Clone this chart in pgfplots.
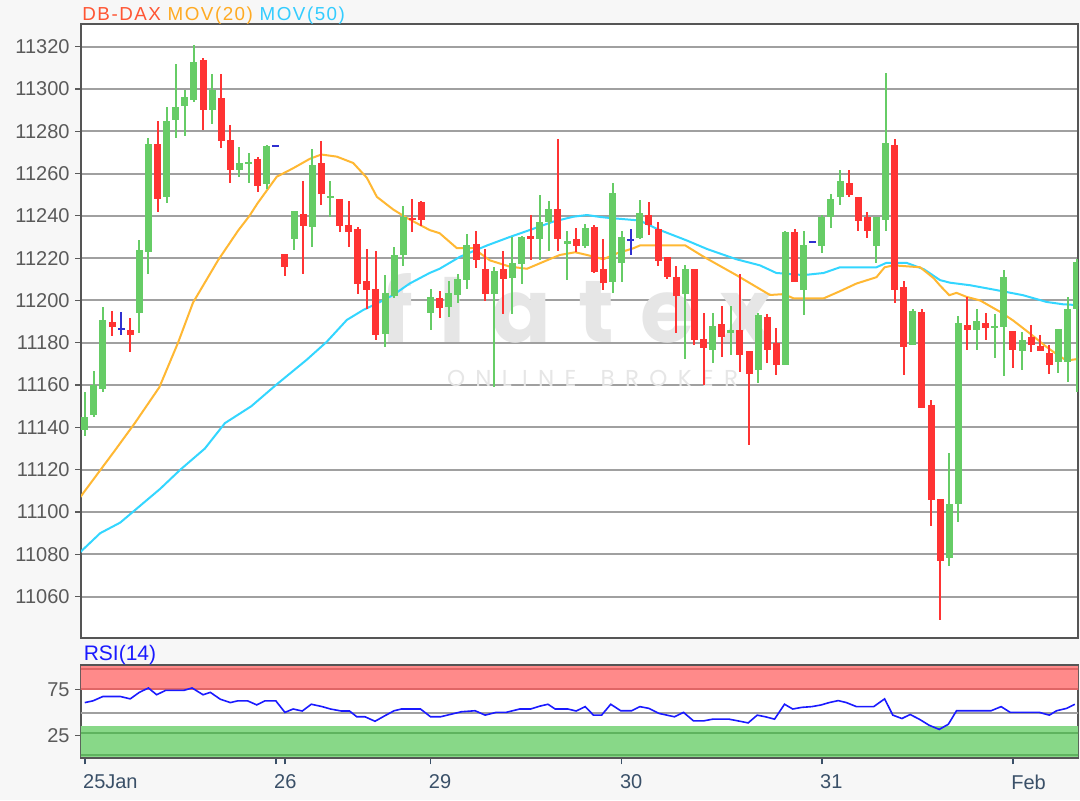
\documentclass[border=0pt]{standalone}
\usepackage{fontspec}
\setmainfont{Liberation Sans}
\newfontfamily\wmfont[LetterSpace=30]{Poppins}
\newfontfamily\wmsmall[LetterSpace=45]{Poppins}
\newfontfamily\titlefont[LetterSpace=8]{Liberation Sans}
\usepackage{pgfplots}
\usepackage{pgfplotstable}
\pgfplotsset{compat=1.18}

\definecolor{cgreen}{HTML}{66CC66}
\definecolor{cred}{HTML}{FF3333}
\definecolor{cblue}{HTML}{3030D0}
\definecolor{cma20}{HTML}{FFB833}
\definecolor{cma50}{HTML}{33D6FF}
\definecolor{gridc}{HTML}{A0A0A0}
\definecolor{framec}{HTML}{555555}
\definecolor{bg}{HTML}{F7F7F7}
\definecolor{xlab}{HTML}{3A5068}
\definecolor{ylab}{HTML}{5A5A5A}
\definecolor{tdax}{HTML}{FF5533}
\definecolor{tmov20}{HTML}{FFAA22}
\definecolor{tmov50}{HTML}{33CCFF}
\definecolor{trsi}{HTML}{1A1AFF}
\definecolor{rsired}{HTML}{FF8A8A}
\definecolor{rsireddk}{HTML}{E06666}
\definecolor{rsigrn}{HTML}{88D888}
\definecolor{rsigrndk}{HTML}{5FB35F}
\definecolor{wm}{HTML}{E6E6E6}

% candles: index, open, high, low, close
\pgfplotstableread{
i o h l c
0 11139 11157 11136 11145
1 11146 11167 11145 11160
2 11158 11197 11157 11191
6 11194 11228.5 11184.5 11224
7 11223 11277 11212.5 11274
9 11249 11291.5 11246 11285
10 11285.5 11312 11277 11291.5
11 11292 11299.5 11278 11296
12 11295 11321 11294 11313
14 11290 11307 11283.5 11299.5
17 11262 11272.5 11258.5 11265
18 11264.5 11270 11255.5 11265.5
20 11255 11273.5 11253 11273
23 11229 11242.5 11224 11242.5
25 11235 11271.5 11225.5 11264
27 11248.5 11256.5 11239.5 11249.5
33 11184 11212 11178 11203.5
34 11202 11225.5 11201.5 11221.5
35 11221.5 11244.5 11216.5 11239.5
38 11194 11205.5 11186 11201.5
40 11197 11209.5 11192.5 11203.5
41 11202.5 11212.5 11199 11210
42 11210 11231.5 11205.5 11226.5
45 11203 11216 11159 11214
47 11210.5 11230 11193.5 11217.5
48 11217.5 11230.5 11208 11230
50 11229 11250 11219 11237
51 11237 11247 11223.5 11243.5
53 11227 11233 11209.5 11228
55 11226 11236 11225 11234.5
58 11209 11255.5 11203.5 11251
59 11218 11233 11209 11230
61 11229.5 11247.5 11229 11241.5
66 11203 11217 11172.5 11215
69 11176.5 11194 11170.5 11188
71 11184.5 11197.5 11174.5 11186
74 11167 11194 11161 11193
77 11169.5 11233 11169.5 11232.5
79 11205 11233 11193 11226.5
81 11226 11240.5 11222.5 11239.5
82 11239.5 11250.5 11234.5 11248
83 11249 11261.5 11245 11256.5
87 11226 11239.5 11218 11239.5
88 11238 11307.5 11233 11274.5
91 11179 11196 11179 11195
95 11078.5 11128 11074.5 11104
96 11104 11192.5 11095.5 11189.5
98 11186 11196 11176.5 11190.5
100 11187 11193.5 11173 11188
101 11187.5 11214.5 11164.5 11211
103 11176 11185 11167 11181.5
107 11171 11186.5 11165.5 11186.5
108 11171 11201.5 11161.5 11196
109 11196 11219.5 11157 11218.5
}\greentab

\pgfplotstableread{
i o h l c
3 11190 11195 11183 11187.5
5 11186 11191.5 11175.5 11183.5
8 11274 11285 11242 11248
13 11314 11314.5 11280.5 11290
15 11296 11307 11272 11275.5
16 11276 11283 11255.5 11262
19 11267 11268 11251.5 11254
22 11222 11222 11211.5 11216
24 11241 11256.5 11212.5 11235
26 11265 11275.5 11245 11250.5
28 11248 11248 11232.5 11235.5
29 11235.5 11247 11225.5 11232.5
30 11234 11235 11203 11208
31 11209 11224.5 11196 11205
32 11205.5 11223.5 11181.5 11183.5
36 11239 11248 11232.5 11238
37 11246.5 11247 11235 11238
39 11201 11204.5 11192 11196.5
43 11227 11233 11215.5 11219.5
44 11215 11224.5 11200 11203
46 11215 11223.5 11193.5 11210.5
49 11230.5 11240.5 11219 11229
52 11243.5 11276.5 11223.5 11229
54 11229 11234.5 11223 11226
56 11235 11235.5 11213 11213.5
57 11215 11229 11205 11208.5
62 11240.5 11246.5 11231 11235.5
63 11234 11237 11216.5 11218.5
64 11220.5 11220.5 11210 11211
65 11211 11216.5 11184.5 11202
67 11215 11215 11179 11181.5
68 11182 11194 11160 11177.5
70 11189 11197.5 11173.5 11183
72 11186 11212.5 11166.5 11174.5
73 11176 11176 11131.5 11165.5
75 11192.5 11193.5 11170.5 11176.5
76 11180 11187 11165 11169.5
78 11232.5 11234 11209 11209
84 11255.5 11261.5 11249 11250
85 11249 11249 11233 11237.5
86 11239.5 11242 11229.5 11233
89 11273.5 11276.5 11199 11205
90 11206.5 11209 11165 11178
92 11194.5 11196 11149.5 11149.5
93 11150.5 11153 11093.5 11105.5
94 11106 11106 11049 11077
97 11188.5 11201.5 11176.5 11186
99 11189.5 11194 11181.5 11187
102 11185.5 11185.5 11168 11176.5
104 11183 11188.5 11175.5 11179
105 11178.5 11183.5 11176 11176
106 11175 11179 11165.5 11169.5
}\redtab

\pgfplotstableread{
i o h l c
4 11186.5 11194.5 11183.5 11186.5
21 11273 11273 11273 11273
60 11228.5 11234 11221.5 11228.5
80 11227.5 11227.5 11227.5 11227.5
}\bluetab

\pgfplotstableread{
i v
-0.5 11107
3.3 11129
5.5 11142
8.2 11159
10.25 11180
11.9 11199
14.65 11219
16.85 11233
18.1 11240
19.0 11246
21.1 11258.5
22.9 11262.5
24.75 11267
26.0 11269
27.7 11268
29.5 11265
31.0 11258
32.1 11249
33.9 11243
35.4 11239
37.9 11233.3
39.0 11231.8
40.9 11224.7
42.7 11224.7
44.5 11219
46.7 11216
48.6 11215
50.8 11219
52.2 11221.5
53.9 11222.8
55.2 11221.5
57.0 11219.5
58.5 11222.3
60.3 11224.7
61.0 11226
66.0 11226
68.0 11220.7
71.6 11212
75.3 11202.6
76.8 11203
77.9 11201
81.2 11201
83.0 11204.4
84.8 11208
87.0 11211
87.9 11215.7
88.9 11216.6
91.8 11215.7
93.3 11210.5
94.0 11207
95.0 11202.5
95.8 11203.6
96.9 11201.7
98.4 11200
100.6 11194.6
102.0 11190.6
103.9 11184.3
105.7 11178
107.0 11174
107.9 11171.6
109.2 11172.4
}\mavtwenty

\pgfplotstableread{
i v
-0.5 11081
1.7 11090
3.9 11095
6.1 11103
8.3 11111
10.5 11120
13.2 11130
15.4 11142
18.3 11150
21.0 11160
24.4 11172
26.6 11180.5
28.8 11190.8
30.6 11195.5
32.5 11199.4
33.9 11202.6
35.7 11208
37.9 11213
39.0 11215
41.25 11220.7
44.2 11226
46.7 11230
48.9 11233.3
51.5 11237.3
53.7 11239.6
55.2 11240.4
56.6 11239.5
57.7 11239
61.0 11237.8
62.9 11233.8
66.2 11228.3
68.4 11224.3
71.6 11219.5
74.2 11216.6
76.0 11213
79.0 11212
81.2 11213
83.0 11215.7
87.0 11215.7
88.1 11217.8
90.3 11217.8
92.2 11214.8
94.0 11209.6
95.1 11208.4
97.3 11207.2
100.2 11204.9
103.1 11202.5
105.7 11199.3
107.5 11198.2
109.2 11197.8
}\mavfifty

\pgfplotstableread{
i v
0.0 60.9
0.9 62.8
2.0 67.6
3.9 67.6
5.0 65
6.0 72.1
7.0 76.9
7.9 69.5
8.9 74.3
10.9 74.3
11.8 76.9
13.0 69.5
13.8 72.1
14.9 64.6
16.0 60.9
16.8 62.8
17.9 62.8
18.9 58.4
19.8 62.8
21.0 62.8
22.0 50.2
22.9 53.9
23.9 51.7
24.9 59.1
26.1 56.5
27.0 53.9
28.2 51.7
29.1 51.7
29.9 45.4
30.8 45.4
31.9 40.5
32.9 46.1
34.0 52
34.8 53.9
36.9 53.9
38.0 45.4
39.1 45.4
40.3 48.3
41.4 50.9
42.9 52
44.0 47.2
45.2 50.2
46.3 50.2
47.8 53.9
49.0 53.9
50.0 57
50.9 59.1
51.7 53.9
53.1 53.9
54.0 51.7
55.0 56.5
55.9 47.2
56.8 47.2
57.8 59.1
58.9 52
60.1 52
61.0 56.5
62.0 54.6
63.1 49.1
64.8 45.4
65.8 50.2
66.9 40.9
68.0 40.9
69.0 42.8
70.8 42.8
72.0 40.5
72.9 38.7
73.9 47.2
74.8 45.4
75.8 42.8
76.9 59.1
77.8 53.9
78.8 55.7
79.9 56.5
80.9 58.3
81.8 60.9
82.8 63.1
83.7 60.9
84.8 56.5
86.7 56.5
87.9 65
88.8 47.2
89.8 43.5
90.7 47.9
91.7 42.8
92.8 36.1
93.9 31.6
94.9 37.2
95.8 52
99.6 52
100.7 56.5
101.7 50.2
104.9 50.2
106.0 47.2
106.8 52
107.9 54.6
108.8 59.1
}\rsitab

\pgfplotsset{
  chart/.style={
    scale only axis, width=498.5pt,
    xmin=-0.41, xmax=109.15,
    axis line style={framec, line width=1pt},
    tick align=outside, major tick length=3pt,
    xtick pos=bottom, ytick pos=left,
    ytick style={ylab, line width=0.6pt},
    scaled y ticks=false,
    ticklabel style={font=\fontsize{10}{12}\selectfont},
    yticklabel style={ylab, inner sep=0pt, xshift=-2.5pt},
    /pgf/number format/.cd, fixed, precision=0, 1000 sep={}, assume math mode=true,
  },
  wick/.style={draw=none, no markers, forget plot,
    error bars/.cd, y dir=both, y explicit, error mark=none,
    error bar style={solid, draw=#1, line width=1pt}},
  body/.style={draw=none, no markers, forget plot,
    error bars/.cd, y dir=both, y explicit, error mark=none,
    error bar style={solid, draw=#1, line width=3.5pt}},
}

\begin{document}
\begin{tikzpicture}
\fill[bg] (0pt,0pt) rectangle (540pt,400pt);
\path[use as bounding box] (0pt,0pt) rectangle (540pt,400pt);

\begin{axis}[chart, at={(40.5pt,80.85pt)}, anchor=south west, height=307.15pt,
  axis background/.style={fill=white},
  ymin=11040.3, ymax=11330.7, ytick={11060,11080,...,11320},
  xtick=\empty, ymajorgrids, grid style={gridc, line width=1pt}]

\node[text=wm, font=\wmfont\bfseries\fontsize{44}{44}\selectfont, inner sep=0pt] at (axis cs:54.1,11196.5) {flatex};
\node[text=wm, font=\wmsmall\fontsize{11.5}{12}\selectfont, inner sep=0pt] at (axis cs:55.8,11163) {ONLINE\hspace{12pt}BROKER};

\addplot[cma50, line width=1pt, mark=none] table[x=i, y=v] {\mavfifty};
\addplot[cma20, line width=1pt, mark=none] table[x=i, y=v] {\mavtwenty};

\addplot[wick=cgreen] table[x=i, y expr={(\thisrow{h}+\thisrow{l})/2}, y error expr={(\thisrow{h}-\thisrow{l})/2}] {\greentab};
\addplot[body=cgreen] table[x=i, y expr={(\thisrow{o}+\thisrow{c})/2}, y error expr={abs(\thisrow{c}-\thisrow{o})/2}] {\greentab};
\addplot[wick=cred] table[x=i, y expr={(\thisrow{h}+\thisrow{l})/2}, y error expr={(\thisrow{h}-\thisrow{l})/2}] {\redtab};
\addplot[body=cred] table[x=i, y expr={(\thisrow{o}+\thisrow{c})/2}, y error expr={abs(\thisrow{c}-\thisrow{o})/2}] {\redtab};
\addplot[draw=none, no markers, forget plot, error bars/.cd, x dir=both, x fixed=0.38,
  y dir=both, y explicit, error mark=none, error bar style={solid, draw=cblue, line width=1pt}]
  table[x=i, y=c, y error plus expr={\thisrow{h}-\thisrow{c}}, y error minus expr={\thisrow{c}-\thisrow{l}}] {\bluetab};
\end{axis}

\begin{axis}[chart, at={(40.5pt,20.85pt)}, anchor=south west, height=46.65pt,
  axis background/.style={fill=white},
  ymin=0, ymax=102, ytick={25,75},
  xtick={0,21,22,38,59,81,102}, xticklabels={25Jan,26,,29,30,31,Feb},
  xtick style={xlab, line width=0.8pt},
  xticklabel style={xlab, anchor=north west, inner sep=0pt, xshift=-1pt, yshift=-5pt}]
\addplot[draw=none, fill=rsired] coordinates {(-1,74.5) (110,74.5) (110,100.5) (-1,100.5)} -- cycle;
\addplot[draw=none, fill=rsigrn] coordinates {(-1,1.5) (110,1.5) (110,35.5) (-1,35.5)} -- cycle;
\addplot[rsireddk, line width=1pt] coordinates {(-1,97.6) (110,97.6)};
\addplot[rsireddk, line width=1pt] coordinates {(-1,75.6) (110,75.6)};
\addplot[rsigrndk, line width=1pt] coordinates {(-1,27.3) (110,27.3)};
\addplot[rsigrndk, line width=1pt] coordinates {(-1,3.4) (110,3.4)};
\addplot[gridc, line width=1pt] coordinates {(-1,50) (110,50)};
\addplot[trsi, line width=0.8pt, mark=none] table[x=i, y=v] {\rsitab};
\end{axis}

\node[anchor=base west, inner sep=0pt, font=\titlefont\fontsize{9.4}{11}\selectfont] at (41pt,389.6pt)
  {\textcolor{tdax}{DB-DAX} \textcolor{tmov20}{MOV(20)} \textcolor{tmov50}{MOV(50)}};
\node[anchor=base west, inner sep=0pt, text=trsi, font=\fontsize{10.5}{12}\selectfont] at (41.7pt,70pt) {RSI(14)};
\end{tikzpicture}
\end{document}
